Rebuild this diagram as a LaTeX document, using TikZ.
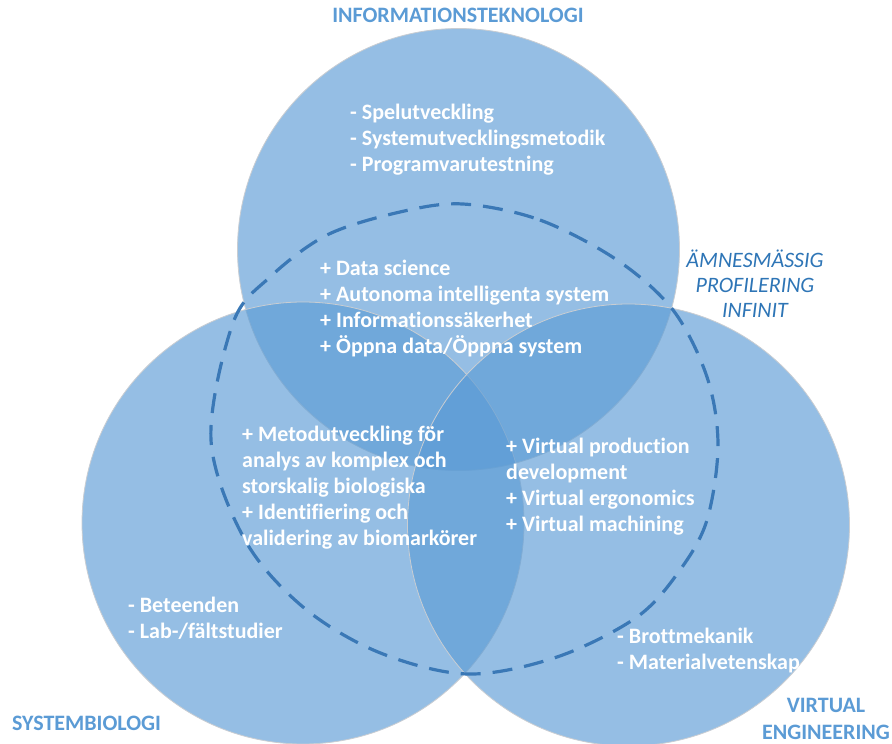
\documentclass[tikz,border=0pt]{standalone}
\usepackage{fontspec}
\setmainfont{Carlito}[Ligatures={NoCommon,NoContextual}]
\definecolor{vennblue}{HTML}{5B9BD5}
\definecolor{titleblue}{HTML}{5B9BD5}
\definecolor{profileblue}{HTML}{2E75B6}
\definecolor{dashblue}{HTML}{3A78B6}
\definecolor{rimgray}{HTML}{C9CDD2}
\begin{document}
\begin{tikzpicture}[x=1pt,y=-1pt,
  venn/.style={fill=vennblue, fill opacity=0.646, draw=rimgray, line width=0.8pt},
  itemtext/.style={font=\bfseries\fontsize{22}{26}\selectfont, text=white,
    align=left, anchor=base west, inner sep=0pt},
  areatitle/.style={font=\bfseries\fontsize{22}{27}\selectfont, text=titleblue,
    inner sep=0pt, anchor=base},
  profile/.style={font=\itshape\fontsize{22}{25}\selectfont, text=profileblue,
    align=center, inner sep=0pt, anchor=base},
  profileline/.style={draw=dashblue, line width=3.2pt, dash pattern=on 20pt off 12pt}]
\useasboundingbox (0,0) rectangle (892,744);

% the three subject areas
\path[venn] (458.5,249.5) circle[radius=221];
\path[venn] (303,523) circle[radius=221];
\path[venn] (628.5,525) circle[radius=221];

% dashed outline of the joint profile
\draw[profileline] plot[smooth cycle, tension=0.55] coordinates {
  (463,204) (540,220) (617,260) (673,310) (707,377) (718,445) (707,520)
  (680,570) (637,617) (557,657) (467,674) (378,652) (303,607) (245,540)
  (211,440) (233,323) (270,277) (327,235) (400,212)};

% area titles (multi-line nodes sit on the baseline of their last line)
\node[areatitle] (it) at (458,23) {INFORMATIONSTEKNOLOGI};
\node[areatitle, anchor=base west] (sb) at (12,730) {SYSTEMBIOLOGI};
\node[areatitle, align=center] (ve) at (826,739) {VIRTUAL\\ENGINEERING};
\node[profile] (prof) at (755,317) {ÄMNESMÄSSIG\\PROFILERING\\INFINIT};

% topics
\node[itemtext] (itlist) at (350,171.5)
  {- Spelutveckling\\- Systemutvecklingsmetodik\\- Programvarutestning};
\node[itemtext] (core) at (320,353)
  {+ Data science\\+ Autonoma intelligenta system\\+ Informationssäkerhet\\+ Öppna data/Öppna system};
\node[itemtext] (bio) at (242,545)
  {+ Metodutveckling för\\analys av komplex och\\storskalig biologiska\\+ Identifiering och\\validering av biomarkörer};
\node[itemtext] (virt) at (506,531)
  {+ Virtual production\\development\\+ Virtual ergonomics\\+ Virtual machining};
\node[itemtext] (sblist) at (128,638)
  {- Beteenden\\- Lab-/fältstudier};
\node[itemtext] (velist) at (617,669)
  {- Brottmekanik\\- Materialvetenskap};
\end{tikzpicture}
\end{document}
